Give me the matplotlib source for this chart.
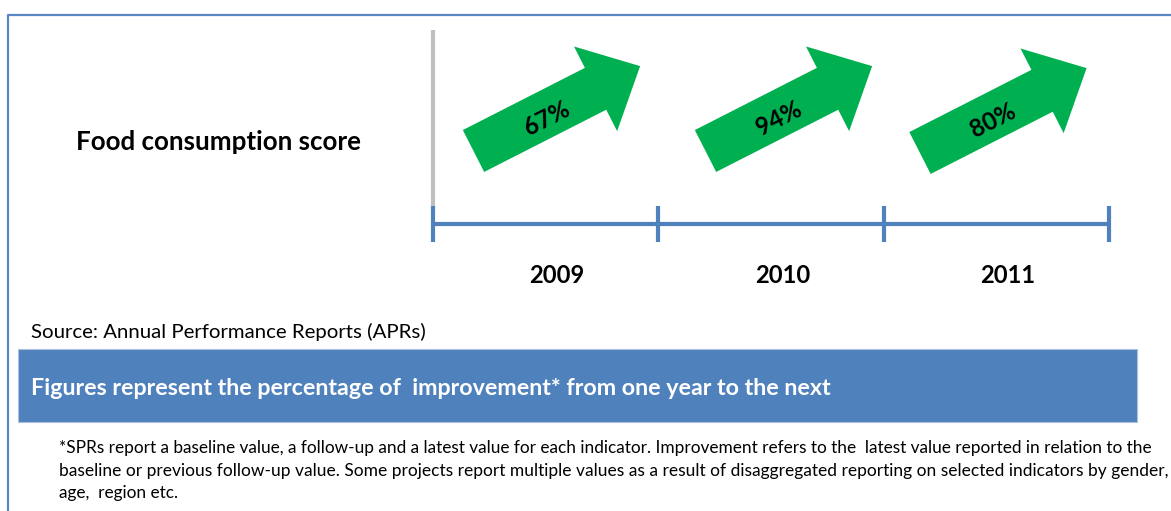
import matplotlib
matplotlib.use('Agg')
import matplotlib.pyplot as plt
from matplotlib.patches import Polygon, Rectangle
import numpy as np

# ---------------- data ----------------
years = ['2009', '2010', '2011']
improvement = [67, 94, 80]          # % improvement per year
indicator = 'Food consumption score'
source_text = 'Source: Annual Performance Reports (APRs)'
banner_text = 'Figures represent the percentage of  improvement* from one year to the next'
footnote_lines = [
    '*SPRs report a baseline value, a follow-up and a latest value for each indicator. Improvement refers to the  latest value reported in relation to the',
    'baseline or previous follow-up value. Some projects report multiple values as a result of disaggregated reporting on selected indicators by gender,',
    'age,  region etc.',
]

# ---------------- layout / style ----------------
W, H = 1171, 511
FONT = 'Lato'
BLUE = '#4F81BD'
GREEN = '#00B050'
GREY = '#BFBFBF'

tl_x0, tl_x1, tl_y = 433, 1109, 224      # timeline extent (px)
tick_half = 18
arrow_tail = [(473.5, 151), (705.5, 151), (920, 153)]
arrow_angle = 27.0
shaft_len, shaft_half, head_len, head_half = 137, 23.5, 50, 47.5
year_offset = 0.55                       # label position within each year span

fig = plt.figure(figsize=(W / 100, H / 100), dpi=100)
ax = fig.add_axes([0, 0, 1, 1])
ax.set_xlim(0, W)
ax.set_ylim(H, 0)
ax.axis('off')

fig.canvas.draw()
renderer = fig.canvas.get_renderer()


def fit_text(x, y, s, width, **kw):
    t = ax.text(x, y, s, fontfamily=FONT, **kw)
    bb = t.get_window_extent(renderer=renderer)
    t.set_fontsize(t.get_fontsize() * width / bb.width)
    return t


# outer frame
ax.plot([8, 8, W + 5], [H + 5, 15, 15], color='#5A88C6', lw=1.6, solid_capstyle='butt')

# indicator label
fit_text(76, 150, indicator, 285, fontsize=16, fontweight='bold', color='black', va='baseline')

# grey vertical separator
ax.plot([tl_x0, tl_x0], [30, tl_y - tick_half], color=GREY, lw=3, solid_capstyle='butt')

# timeline
n = len(years)
ticks = np.linspace(tl_x0, tl_x1, n + 1)
ax.plot([tl_x0, tl_x1], [tl_y, tl_y], color=BLUE, lw=3, solid_capstyle='butt')
for tx in ticks:
    ax.plot([tx, tx], [tl_y - tick_half, tl_y + tick_half], color=BLUE, lw=3, solid_capstyle='butt')
step = ticks[1] - ticks[0]
for i, yr in enumerate(years):
    fit_text(ticks[i] + year_offset * step, 283, yr, 55, fontsize=18, fontweight='bold',
             color='black', ha='center', va='baseline')

# arrows
th = np.deg2rad(arrow_angle)
u = np.array([np.cos(th), -np.sin(th)])
p = np.array([np.sin(th), np.cos(th)])
for (tx, ty), val in zip(arrow_tail, improvement):
    t0 = np.array([tx, ty])
    hb = t0 + u * shaft_len
    tip = hb + u * head_len
    pts = [t0 - p * shaft_half, hb - p * shaft_half, hb - p * head_half, tip,
           hb + p * head_half, hb + p * shaft_half, t0 + p * shaft_half]
    ax.add_patch(Polygon(pts, closed=True, facecolor=GREEN, edgecolor='none'))
    c = t0 + u * 80 + p * 4
    ax.text(c[0], c[1], f'{val}%', fontfamily=FONT, fontsize=17.5, fontweight='bold',
            color='black', rotation=arrow_angle, rotation_mode='anchor', ha='center', va='center')

# source
fit_text(31, 338, source_text, 394, fontsize=12, color='black', va='baseline')

# banner
ax.add_patch(Rectangle((18, 349), 1137 - 18, 422 - 349, facecolor=BLUE, edgecolor='#A9C0DE', lw=0.8))
fit_text(31, 395, banner_text, 838 - 31, fontsize=14, fontweight='bold', color='white', va='baseline')

# footnote
fn_widths = [1155 - 59, 1168 - 59, None]
fn_base = [453, 476, 498]
ref_size = None
for line, w, yb in zip(footnote_lines, fn_widths, fn_base):
    if w is not None:
        t = fit_text(59, yb, line, w, fontsize=10, color='black', va='baseline')
        ref_size = t.get_fontsize() if ref_size is None else min(ref_size, t.get_fontsize())
    else:
        ax.text(59, yb, line, fontfamily=FONT, fontsize=ref_size, color='black', va='baseline')

fig.savefig('out.png', dpi=100)
